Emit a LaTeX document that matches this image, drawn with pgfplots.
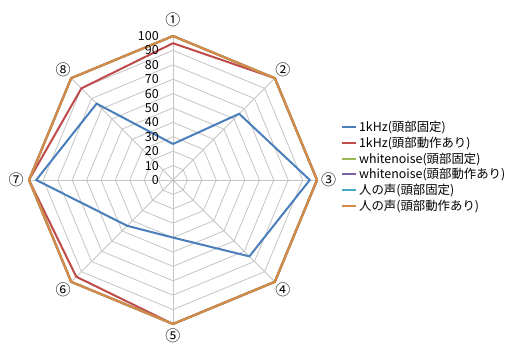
\documentclass[border=0pt]{standalone}
\usepackage{fontspec}
\setmainfont{Noto Sans CJK JP}
\usepackage{pgfplots}
\pgfplotsset{compat=1.18}
\usepgfplotslibrary{polar}

\definecolor{cBlue}{HTML}{4A7EBB}
\definecolor{cRed}{HTML}{BE4B48}
\definecolor{cGreen}{HTML}{98B954}
\definecolor{cPurple}{HTML}{7D60A0}
\definecolor{cTeal}{HTML}{46AAC5}
\definecolor{cOrange}{HTML}{D58A45}
\definecolor{cGrid}{HTML}{C4C4C4}

\begin{document}
\begin{tikzpicture}[x=1pt,y=1pt]
\path[use as bounding box] (0,0) rectangle (509,344);
\begin{polaraxis}[
  at={(173pt,164pt)}, anchor=center,
  scale only axis, width=288pt, height=288pt,
  xmin=0, xmax=360, ymin=0, ymax=100,
  hide axis, clip=false,
  legend cell align=left,
  legend image code/.code={\draw[#1] (0pt,0pt) -- (14pt,0pt);},
  legend style={
    draw=none, fill=none,
    at={(1.082,0.713)}, anchor=north west,
    font=\fontsize{12.4}{14.5}\selectfont,
    row sep=0pt,
    inner sep=0pt,
    /tikz/every odd column/.append style={xshift=0pt},
  },
]
% octagonal grid rings
\pgfplotsinvokeforeach{10,20,30,40,50,60,70,80,90,100}{
  \addplot[cGrid, line width=0.8pt, forget plot]
    coordinates {(90,#1) (45,#1) (0,#1) (315,#1) (270,#1) (225,#1) (180,#1) (135,#1) (90,#1)};
}
% spokes
\pgfplotsinvokeforeach{0,45,90,135,180,225,270,315}{
  \addplot[cGrid, line width=0.8pt, forget plot] coordinates {(#1,0) (#1,100)};
}

% series: points 1..8 clockwise from the top
\addplot[cBlue, line width=2pt]
  coordinates {(90,25) (45,65) (0,95) (315,75) (270,40) (225,45) (180,95) (135,75) (90,25)};
\addlegendentry{1kHz(頭部固定)}
\addplot[cRed, line width=2pt]
  coordinates {(90,95) (45,100) (0,100) (315,100) (270,100) (225,95) (180,100) (135,90) (90,95)};
\addlegendentry{1kHz(頭部動作あり)}
\addplot[cGreen, line width=2pt]
  coordinates {(90,100) (45,100) (0,100) (315,100) (270,100) (225,100) (180,100) (135,100) (90,100)};
\addlegendentry{whitenoise(頭部固定)}
\addplot[cPurple, line width=2pt]
  coordinates {(90,100) (45,100) (0,100) (315,100) (270,100) (225,100) (180,100) (135,100) (90,100)};
\addlegendentry{whitenoise(頭部動作あり)}
\addplot[cTeal, line width=2pt]
  coordinates {(90,100) (45,100) (0,100) (315,100) (270,100) (225,100) (180,100) (135,100) (90,100)};
\addlegendentry{人の声(頭部固定)}
\addplot[cOrange, line width=2.3pt]
  coordinates {(90,100) (45,100) (0,100) (315,100) (270,100) (225,100) (180,100) (135,100) (90,100)};
\addlegendentry{人の声(頭部動作あり)}

% radial scale labels
\pgfplotsinvokeforeach{0,10,20,30,40,50,60,70,80,90,100}{
  \node[anchor=east, inner sep=0pt, font=\fontsize{12.5}{14}\selectfont, xshift=-14pt] at (axis cs:90,#1) {#1};
}
% category labels
\begin{scope}[every node/.style={font=\fontsize{15}{17}\selectfont, inner sep=0pt}]
\node at (axis cs:90,111.5) {①};
\node at (axis cs:45,108) {②};
\node at (axis cs:0,108) {③};
\node at (axis cs:315,108) {④};
\node at (axis cs:270,108.5) {⑤};
\node at (axis cs:225,108) {⑥};
\node at (axis cs:180,109) {⑦};
\node at (axis cs:135,108) {⑧};
\end{scope}
\end{polaraxis}
\end{tikzpicture}
\end{document}
